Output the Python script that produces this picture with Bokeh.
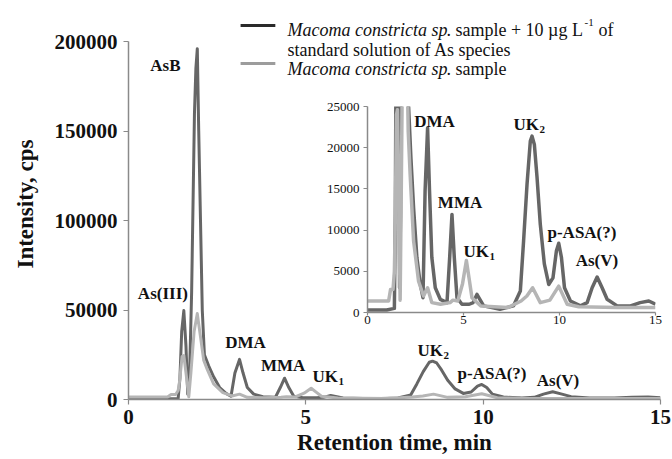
from bokeh.plotting import figure
from bokeh.models import Range1d, FixedTicker, NumeralTickFormatter
from bokeh.layouts import column
from bokeh.embed import file_html
from bokeh.resources import INLINE
from bokeh.core.properties import value

FONT = "Liberation Serif"

# ---- data: retention time (min) and intensity (cps) ----
time_spiked = [0.0, 1.0, 1.40, 1.45, 1.50, 1.56, 1.62, 1.67, 1.72, 1.78, 1.82, 1.86, 1.90, 1.94,
               1.98, 2.03, 2.08, 2.14, 2.26, 2.40, 2.57, 2.75, 2.89, 3.00, 3.13, 3.23, 3.35, 3.53,
               3.79, 4.14, 4.28, 4.40, 4.52, 4.66, 4.92, 5.30, 5.50, 5.70, 6.05, 6.90, 7.60, 7.96,
               8.13, 8.31, 8.48, 8.57, 8.69, 8.83, 9.00, 9.21, 9.44, 9.66, 9.84, 9.96, 10.10, 10.26,
               10.57, 11.09, 11.44, 11.70, 11.96, 12.22, 12.48, 13.00, 13.70, 14.20, 14.65, 15.00]
cps_spiked = [300, 300, 500, 12000, 38000, 49700, 30000, 3000, 12000, 60000, 110000, 160000, 185000,
              196000, 150000, 100000, 50000, 25000, 18800, 12700, 6700, 3400, 1800, 14800, 22400,
              14800, 6700, 3000, 1600, 1200, 6700, 11900, 6700, 1800, 1000, 1000, 1200, 2200, 800,
              400, 800, 2600, 8700, 15600, 20800, 21400, 20400, 16400, 10700, 5900, 3400, 4200, 7500,
              8400, 6700, 3000, 1400, 800, 1200, 3000, 4300, 3000, 1600, 800, 800, 1200, 1400, 1000]

time_sample = [0.0, 1.10, 1.20, 1.33, 1.40, 1.44, 1.51, 1.56, 1.62, 1.70, 1.76, 1.85, 1.94, 2.03,
               2.12, 2.22, 2.40, 2.66, 2.92, 3.13, 3.35, 3.80, 4.30, 4.45, 4.70, 4.95, 5.15, 5.30,
               5.44, 5.90, 7.30, 8.00, 8.30, 8.60, 9.00, 9.50, 9.96, 10.40, 11.00, 13.00, 15.00]
cps_sample = [1400, 1400, 2800, 2800, 5000, 10000, 24000, 24600, 15000, 1500, 15000, 38000, 48000,
              35000, 22000, 16800, 8700, 3800, 2000, 3000, 1200, 1000, 1200, 1500, 1400, 3500, 6300,
              4000, 1800, 800, 600, 1400, 2000, 3000, 1200, 1500, 3200, 1000, 700, 600, 600]

x_ticks = [0, 5, 10, 15]
y_ticks = [0, 50000, 100000, 150000, 200000]
inset_y_ticks = [0, 5000, 10000, 15000, 20000, 25000]

legend_spiked = ["Macoma constricta sp", ". sample + 10 \u00b5g L", "-1", "of",
                 "standard solution of As species"]
legend_sample = ["Macoma constricta sp", ". sample"]

main_labels = ["AsB", "As(III)", "DMA", "MMA", "p-ASA(?)", "As(V)"]
main_label_t = [1.04, 0.97, 3.30, 4.36, 10.25, 12.11]
main_label_i = [186600, 59200, 31600, 19000, 14800, 10600]
main_uk_t = [5.19, 8.15]
main_uk_i = [12600, 27400]

inset_labels = ["DMA", "MMA", "p-ASA(?)", "As(V)"]
inset_label_t = [3.49, 4.82, 11.17, 11.95]
inset_label_i = [23200, 13300, 9650, 6300]
inset_uk_t = [5.0, 7.6]
inset_uk_i = [7400, 22800]
uk_subs = ["1", "2"]

DARK = "#666666"
LIGHT = "#b5b5b5"
AXIS = "#8a8a8a"


def style_axes(fig, tick_size, bold, out):
    for ax in (fig.xaxis, fig.yaxis):
        ax.axis_line_color = AXIS
        ax.axis_line_width = 1.5
        ax.major_tick_line_color = AXIS
        ax.major_tick_line_width = 1.2
        ax.major_tick_in = 0
        ax.major_tick_out = out
        ax.minor_tick_line_color = None
        ax.major_label_text_font = FONT
        ax.major_label_text_font_size = tick_size
        ax.major_label_text_font_style = "bold" if bold else "normal"
        ax.major_label_text_color = "#111111"


W, H = 672, 459

# ---- main figure ----
p = figure(width=W, height=H, x_range=Range1d(0, 15), y_range=Range1d(0, 218436),
           output_backend="svg", toolbar_location=None,
           min_border_left=128, min_border_right=12, min_border_top=8, min_border_bottom=60)
p.frame_align = False
p.grid.visible = False
p.outline_line_color = None
p.border_fill_alpha = 0
style_axes(p, "21px", True, 5)
p.xaxis.ticker = FixedTicker(ticks=x_ticks)
p.yaxis.ticker = FixedTicker(ticks=y_ticks)
p.yaxis.bounds = (0, 200000)
p.yaxis.formatter = NumeralTickFormatter(format="0")
p.xaxis.major_label_standoff = 5
p.yaxis.major_label_standoff = 6
p.xaxis.axis_label = "Retention time, min"
p.yaxis.axis_label = "Intensity, cps"
for ax in (p.xaxis, p.yaxis):
    ax.axis_label_text_font = FONT
    ax.axis_label_text_font_style = "bold"
    ax.axis_label_text_font_size = "23px"
    ax.axis_label_text_color = "#111111"
p.xaxis.axis_label_standoff = 3
p.yaxis.axis_label_standoff = 14

p.line(time_spiked, cps_spiked, line_color=DARK, line_width=3, line_join="round")
p.line(time_sample, cps_sample, line_color=LIGHT, line_width=3, line_join="round")

lab = dict(text_font=value(FONT), text_font_style="bold", text_font_size="17px",
           text_color="#111111")
p.text(main_label_t, main_label_i, text=main_labels, text_align="center",
       text_baseline="middle", **lab)
p.text(main_uk_t, main_uk_i, text=["UK", "UK"], text_align="left", text_baseline="middle", **lab)
p.text(main_uk_t, main_uk_i, text=uk_subs, text_align="left", text_baseline="middle",
       x_offset=26, y_offset=5, text_font=value(FONT), text_font_style="bold",
       text_font_size="11px", text_color="#111111")

# legend
p.segment(x0=[3.16], y0=[209000], x1=[4.14], y1=[209000], line_color="#2a2a2a", line_width=3)
p.segment(x0=[3.16], y0=[187700], x1=[4.14], y1=[187700], line_color="#9c9c9c", line_width=3)
leg = dict(text_font=value(FONT), text_font_size="18px", text_color="#111111",
           text_baseline="alphabetic", text_align="left")
p.text([4.483, 4.483], [206700, 184900], text=[legend_spiked[0], legend_sample[0]],
       text_font_style="italic", **leg)
p.text([8.965, 8.965], [206700, 184900], text=[legend_spiked[1], legend_sample[1]], **leg)
p.text([12.86], [210600], text=[legend_spiked[2]], text_font=value(FONT), text_font_size="11px",
       text_color="#111111", text_baseline="alphabetic", text_align="left")
p.text([13.25], [206700], text=[legend_spiked[3]], **leg)
p.text([4.483], [195000], text=[legend_spiked[4]], **leg)

# ---- inset (transparent figure laid over the main one) ----
IW, IH, ITOP = 667, 245, 95
ins = figure(width=IW, height=IH, x_range=Range1d(0, 15), y_range=Range1d(0, 25000),
             output_backend="svg", toolbar_location=None,
             min_border_left=367, min_border_right=12, min_border_top=11, min_border_bottom=28)
ins.frame_align = False
ins.grid.visible = False
ins.outline_line_color = None
ins.background_fill_alpha = 0
ins.border_fill_alpha = 0
style_axes(ins, "13px", False, 4)
ins.xaxis.ticker = FixedTicker(ticks=x_ticks)
ins.yaxis.ticker = FixedTicker(ticks=inset_y_ticks)
ins.yaxis.formatter = NumeralTickFormatter(format="0")
ins.xaxis.major_tick_out = 3
ins.xaxis.major_label_standoff = 0
ins.yaxis.major_label_standoff = 4

ins.line(time_spiked, cps_spiked, line_color=DARK, line_width=3.5, line_join="round")
ins.line(time_sample, cps_sample, line_color=LIGHT, line_width=3.5, line_join="round")
ins.text(inset_label_t, inset_label_i, text=inset_labels, text_align="center",
         text_baseline="middle", **lab)
ins.text(inset_uk_t, inset_uk_i, text=["UK", "UK"], text_align="left", text_baseline="middle", **lab)
ins.text(inset_uk_t, inset_uk_i, text=uk_subs, text_align="left", text_baseline="middle",
         x_offset=26, y_offset=5, text_font=value(FONT), text_font_style="bold",
         text_font_size="11px", text_color="#111111")

ins.margin = (-(H - ITOP), 0, H - ITOP - IH, 0)

layout = column(p, ins)
open("out.html", "w").write(file_html(layout, INLINE))
